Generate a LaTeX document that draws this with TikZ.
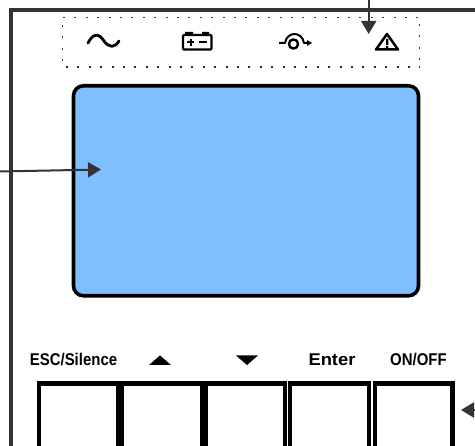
\documentclass[tikz,border=0pt]{standalone}
\usepackage{fontspec}
\setmainfont{Liberation Sans}
\usetikzlibrary{arrows.meta}
\definecolor{lcd}{HTML}{80BFFF}
\definecolor{frame}{HTML}{333333}
\tikzset{
 x=1pt,y=-1pt,
 framel/.style={draw=frame,line width=4pt},
 callout/.style={draw=frame,line width=2pt,-{Triangle[length=13pt,width=15pt]}},
 keybox/.style={draw=black,line width=4.6pt},
 keytext/.style={font=\bfseries\fontsize{17}{18}\selectfont,inner sep=0pt,anchor=center},
 icon/.style={draw=black,line width=2.4pt,line join=round},
 dotrow/.style={draw=frame,line width=1.9pt,dash pattern=on 1.9pt off 9.5pt},
}
\begin{document}
\begin{tikzpicture}
\useasboundingbox (0,0) rectangle (475,446);
\fill[white] (0,0) rectangle (475,446);
% frame
\draw[framel] (475,10.5) -- (10.5,10.5) -- (10.5,446);
% dotted panel
\draw[dotrow] (63,17.5) -- (420,17.5);
\draw[dotrow] (66,67) -- (420,67);
\draw[dotrow] (62.5,25) -- (62.5,65);
\draw[dotrow] (419.5,24) -- (419.5,65);
% icons
\draw[icon,line width=2.8pt,line cap=round] (88,43) .. controls (93,33) and (99,33) .. (104,41) .. controls (109,48) and (115,48) .. (119,41);
\draw[icon,rounded corners=1pt] (183,35) rectangle (211.5,49.5);
\fill (185,32) rectangle (193,35) (202,32) rectangle (209,35);
\draw[icon,line width=2pt] (187,42.5) -- (194,42.5) (190.5,39) -- (190.5,46) (199,42.5) -- (207,42.5);
\draw[icon,line width=2pt] (279,43) -- (285,43) .. controls (287,31) and (302,31) .. (304,43) -- (308,43);
\fill[white] (294,44) circle (5);
\draw[icon,line width=2.4pt] (293.5,44) circle (4.6);
\fill (307,40) -- (312,43) -- (307,46) -- cycle;
\draw[icon,line width=2.5pt] (387,34) -- (398,49.5) -- (376,49.5) -- cycle;
\fill (386,39) rectangle (388.4,45) (386,46) rectangle (388.4,48);
% lcd
\node (screen) [draw=black,fill=lcd,line width=3.6pt,outer sep=0pt,rounded corners=10pt,minimum width=345pt,minimum height=210pt,inner sep=0pt,anchor=north west] at (73.5,85.8) {};
% keys
\path[keybox] (39,383.5) rectangle (118,480) (122,383.5) rectangle (202,480) (206,383.5) rectangle (285,480) (290,383.5) rectangle (369,480) (375,383.5) rectangle (452.5,480);
% labels
\node (esc) [keytext,xscale=.88] at (73.5,359.5) {ESC/Silence};
\node (enter) [keytext,xscale=1.08] at (332,359.5) {Enter};
\node (onoff) [keytext,xscale=.88] at (418.5,359.5) {ON/OFF};
\fill (149,365) -- (160,355.5) -- (171,365) -- cycle;
\fill (236,355.5) -- (258,355.5) -- (247,365) -- cycle;
% callouts
\coordinate (c1s) at (368.7,0); \coordinate (c1e) at (368.7,34);
\coordinate (c2s) at (0,171.5); \coordinate (c2e) at (101,169.5);
\coordinate (c3s) at (475,410); \coordinate (c3e) at (461,410);
\draw[callout] (c1s) -- (c1e);
\draw[callout] (c2s) -- (c2e);
\draw[callout] (c3s) -- (c3e);
\end{tikzpicture}
\end{document}
